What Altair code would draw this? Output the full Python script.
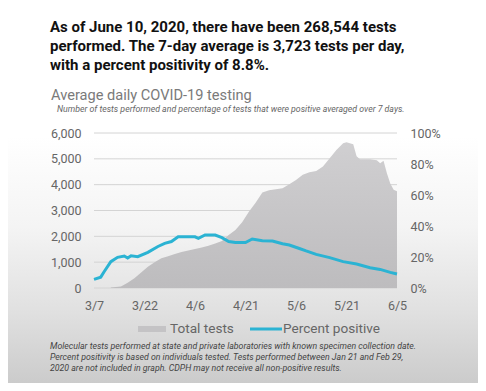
import altair as alt
import pandas as pd

# Total tests (7-day average) — date, value
test_dates = ["2020-03-12", "2020-03-15", "2020-03-17", "2020-03-19", "2020-03-21", "2020-03-23",
              "2020-03-25", "2020-03-27", "2020-03-29", "2020-03-31", "2020-04-02", "2020-04-04",
              "2020-04-06", "2020-04-08", "2020-04-10", "2020-04-12", "2020-04-14", "2020-04-16",
              "2020-04-18", "2020-04-20", "2020-04-22", "2020-04-24", "2020-04-26", "2020-04-28",
              "2020-04-30", "2020-05-02", "2020-05-04", "2020-05-06", "2020-05-08", "2020-05-10",
              "2020-05-12", "2020-05-14", "2020-05-16", "2020-05-18", "2020-05-20", "2020-05-21",
              "2020-05-23", "2020-05-24", "2020-05-25", "2020-05-28", "2020-05-30", "2020-05-31",
              "2020-06-01", "2020-06-02", "2020-06-03", "2020-06-04", "2020-06-05"]
test_values = [20, 60, 200, 380, 600, 820,
               1000, 1150, 1230, 1320, 1390, 1450,
               1510, 1570, 1640, 1720, 1820, 2050,
               2250, 2550, 2950, 3300, 3700, 3780,
               3820, 3860, 4020, 4180, 4380, 4480,
               4530, 4700, 5020, 5340, 5600, 5640,
               5560, 5100, 4980, 4980, 4950, 4830,
               4930, 4440, 4050, 3800, 3750]

# Percent positive (7-day average)
pct_dates = ["2020-03-07", "2020-03-09", "2020-03-10", "2020-03-12", "2020-03-14", "2020-03-16",
             "2020-03-17", "2020-03-18", "2020-03-20", "2020-03-23", "2020-03-26", "2020-03-28",
             "2020-03-30", "2020-04-01", "2020-04-04", "2020-04-06", "2020-04-07", "2020-04-09",
             "2020-04-12", "2020-04-14", "2020-04-16", "2020-04-18", "2020-04-21", "2020-04-23",
             "2020-04-26", "2020-04-29", "2020-05-02", "2020-05-04", "2020-05-07", "2020-05-09",
             "2020-05-12", "2020-05-16", "2020-05-20", "2020-05-24", "2020-05-28", "2020-05-31",
             "2020-06-03", "2020-06-05"]
pct_values = [5.6, 7.0, 10.5, 17.0, 19.8, 20.6,
              19.3, 20.8, 20.2, 23.0, 26.8, 28.8,
              30.0, 33.0, 33.1, 33.0, 32.0, 34.2,
              34.2, 32.5, 30.0, 29.3, 29.3, 31.6,
              30.5, 30.3, 28.6, 27.7, 25.5, 23.9,
              21.7, 19.6, 17.0, 15.5, 13.1, 12.0,
              10.1, 9.0]

x_tick_dates = [(3, 7), (3, 22), (4, 6), (4, 21), (5, 6), (5, 21), (6, 5)]
left_ticks = [0, 1000, 2000, 3000, 4000, 5000, 6000]
right_ticks = [0, 0.2, 0.4, 0.6, 0.8, 1.0]

headline = ["As of June 10, 2020, there have been 268,544 tests",
            "performed. The 7-day average is 3,723 tests per day,",
            "with a percent positivity of 8.8%."]
chart_title = "Average daily COVID-19 testing"
chart_subtitle = "Number of tests performed and percentage of tests that were positive averaged over 7 days."
footnote = ["Molecular tests performed at state and private laboratories with known specimen collection date.",
            "Percent positivity is based on individuals tested. Tests performed between Jan 21 and Feb 29,",
            "2020 are not included in graph. CDPH may not receive all non-positive results."]
legend_labels = ["Total tests", "Percent positive"]

tests_df = pd.DataFrame({"date": test_dates, "tests": test_values})
pct_df = pd.DataFrame({"date": pct_dates, "pct": [v / 100 for v in pct_values]})
grid_df = pd.DataFrame({"tests": left_ticks})

FONT = "Roboto"
BLUE = "#2bb3d3"
W, H = 303, 155
PL, PT = 86, 125
TOTAL_W, TOTAL_H = 470, 375

xscale = alt.Scale(type="utc",
                   domain=[alt.DateTime(year=2020, month=3, date=7, utc=True),
                           alt.DateTime(year=2020, month=6, date=5, utc=True)])
xvals = [alt.DateTime(year=2020, month=m, date=d, utc=True) for m, d in x_tick_dates]
yscale = alt.Scale(domain=[0, 6000], nice=False)

xaxis = alt.Axis(values=xvals, labelExpr="utcFormat(datum.value, '%-m/%-d')", grid=False,
                 domain=False, ticks=False, labelPadding=11, labelFontSize=12.5,
                 labelColor="#666666", labelFont=FONT, zindex=1, labelOverlap=False,
                 labelFlush=False)
yaxis = alt.Axis(values=left_ticks, labelExpr="format(datum.value, ',')", grid=False,
                 domain=False, ticks=False, labelPadding=13, labelFontSize=12.5,
                 labelColor="#666666", labelFont=FONT, zindex=1, labelOverlap=False)
raxis = alt.Axis(orient="right", values=right_ticks, format=".0%", grid=False,
                 domain=False, ticks=False, labelPadding=13, labelFontSize=12.5,
                 labelColor="#666666", labelFont=FONT, zindex=1, labelOverlap=False)

one = alt.Data(values=[{}])

bg = alt.Chart(one).mark_rect(
    fill=alt.Gradient(gradient="linear", x1=0, y1=0, x2=0, y2=1,
                      stops=[alt.GradientStop(color="#ffffff", offset=0),
                             alt.GradientStop(color="#ffffff", offset=0.35),
                             alt.GradientStop(color="#f4f4f4", offset=0.58),
                             alt.GradientStop(color="#e0e0e0", offset=0.8),
                             alt.GradientStop(color="#c9c9c9", offset=1)])
).encode(x=alt.value(-PL - 8), x2=alt.value(TOTAL_W - PL + 8),
         y=alt.value(-PT - 8), y2=alt.value(TOTAL_H - PT + 8))

grid = alt.Chart(grid_df).mark_rule(color="#d4d4d4", strokeWidth=1).encode(
    y=alt.Y("tests:Q", scale=yscale, title=None, axis=yaxis),
    x=alt.value(0), x2=alt.value(W))

area = alt.Chart(tests_df).mark_area(
    fill=alt.Gradient(gradient="linear", x1=0, y1=0, x2=0, y2=1,
                      stops=[alt.GradientStop(color="#d0cfd1", offset=0),
                             alt.GradientStop(color="#bdbcbe", offset=1)]),
    interpolate="linear"
).encode(
    x=alt.X("date:T", scale=xscale, title=None, axis=xaxis),
    y=alt.Y("tests:Q", scale=yscale, title=None, axis=yaxis)
)

line = alt.Chart(pct_df).mark_line(color=BLUE, strokeWidth=3, interpolate="linear").encode(
    x=alt.X("date:T", scale=xscale, title=None, axis=xaxis),
    y=alt.Y("pct:Q", scale=alt.Scale(domain=[0, 1], nice=False), title=None, axis=raxis)
)

plot = alt.layer(alt.layer(grid, area), line).resolve_scale(y="independent")

head = alt.Chart(one).mark_text(text=headline, align="left", baseline="alphabetic",
                                font=FONT, fontSize=15, fontWeight="bold", color="#111111",
                                lineHeight=19).encode(x=alt.value(-44), y=alt.value(-101))
ttl = alt.Chart(one).mark_text(text=chart_title, align="left", baseline="alphabetic",
                               font=FONT, fontSize=14.6, color="#7a7a7a").encode(
    x=alt.value(-43), y=alt.value(-33))
sub = alt.Chart(one).mark_text(text=chart_subtitle, align="left", baseline="alphabetic",
                               font=FONT, fontSize=8.75, fontStyle="italic", color="#666666").encode(
    x=alt.value(-37), y=alt.value(-21))
foot = alt.Chart(one).mark_text(text=footnote, align="left", baseline="alphabetic",
                                font=FONT, fontSize=8.75, fontStyle="italic", color="#444444",
                                lineHeight=11).encode(x=alt.value(-44), y=alt.value(216))

leg_rect = alt.Chart(one).mark_rect(color="#c4c3c5").encode(
    x=alt.value(44), x2=alt.value(72), y=alt.value(193), y2=alt.value(199))
leg_line = alt.Chart(one).mark_rule(color=BLUE, strokeWidth=3).encode(
    x=alt.value(156), x2=alt.value(188), y=alt.value(196))
leg_t1 = alt.Chart(one).mark_text(text=legend_labels[0], align="left", baseline="middle",
                                  font=FONT, fontSize=13.6, color="#666666").encode(
    x=alt.value(76), y=alt.value(196))
leg_t2 = alt.Chart(one).mark_text(text=legend_labels[1], align="left", baseline="middle",
                                  font=FONT, fontSize=13.6, color="#666666").encode(
    x=alt.value(189), y=alt.value(196))

chart = alt.layer(bg, plot, head, ttl, sub, foot, leg_rect, leg_line, leg_t1, leg_t2).properties(
    width=W, height=H,
    autosize=alt.AutoSizeParams(type="none"),
    padding={"left": PL, "top": PT, "right": TOTAL_W - PL - W, "bottom": TOTAL_H - PT - H},
).configure_view(stroke=None).configure(background="#ffffff")

chart.save("out.html", embed_options={"renderer": "svg", "actions": False})
